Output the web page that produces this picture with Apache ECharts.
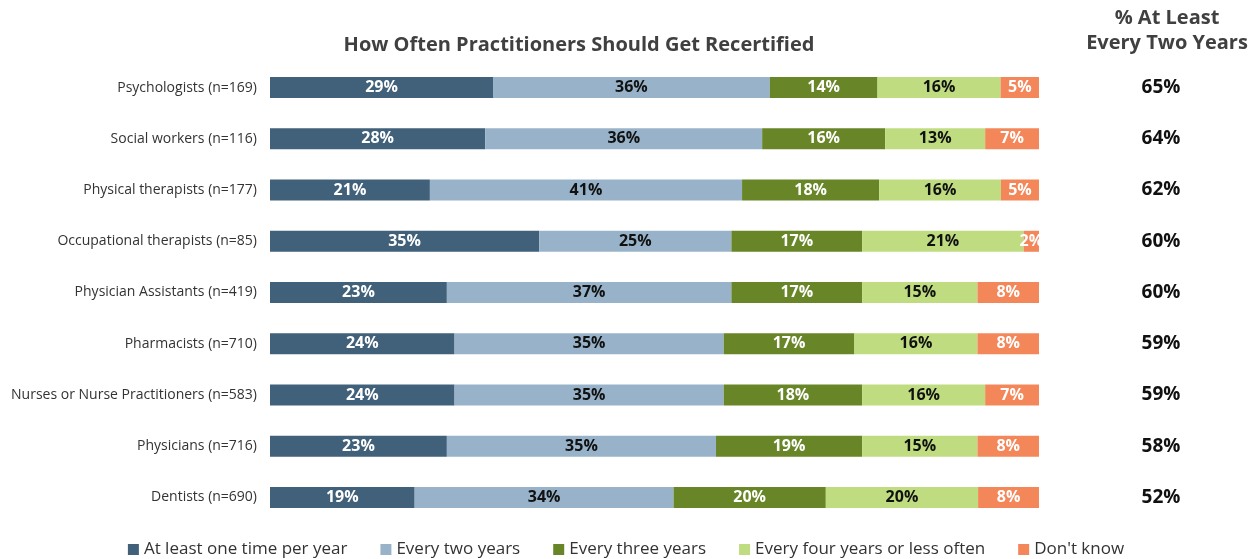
<!DOCTYPE html>
<html>
<head>
<meta charset="utf-8">
<script src="https://cdn.jsdelivr.net/npm/echarts@6/dist/echarts.min.js"></script>
<style>
  html, body { margin: 0; padding: 0; background: #fff; }
  #chart { width: 1252px; height: 559px; }
</style>
</head>
<body>
<div id="chart"></div>
<script>
// groups, top to bottom
const groups = [
  "Psychologists (n=169)",
  "Social workers (n=116)",
  "Physical therapists (n=177)",
  "Occupational therapists (n=85)",
  "Physician Assistants (n=419)",
  "Pharmacists (n=710)",
  "Nurses or Nurse Practitioners (n=583)",
  "Physicians (n=716)",
  "Dentists (n=690)"
];

const seriesNames = ["At least one time per year", "Every two years", "Every three years", "Every four years or less often", "Don't know"];

// values in %, one list per answer
const oncePerYear = [29, 28, 21, 35, 23, 24, 24, 23, 19];
const everyTwo    = [36, 36, 41, 25, 37, 35, 35, 35, 34];
const everyThree  = [14, 16, 18, 17, 17, 17, 18, 19, 20];
const everyFour   = [16, 13, 16, 21, 15, 16, 16, 15, 20];
const dontKnow    = [5, 7, 5, 2, 8, 8, 7, 8, 8];

// right column: % at least every two years
const atLeastTwo = [65, 64, 62, 60, 60, 59, 59, 58, 52];

const colors = ["#41607A", "#98B3C9", "#688627", "#BFDD80", "#F4875A"];
const labelColors = ["#fff", "#111", "#fff", "#111", "#fff"];

const allValues = [oncePerYear, everyTwo, everyThree, everyFour, dontKnow];

// 100% stacked, like the spreadsheet chart
const rowTotals = groups.map((g, i) => allValues.reduce((s, arr) => s + arr[i], 0));

const font = "'Open Sans', 'Noto Sans', sans-serif";

const chart = echarts.init(document.getElementById("chart"));

chart.setOption({
  animation: false,
  textStyle: { fontFamily: font },
  title: [
    {
      text: "How Often Practitioners Should Get Recertified",
      left: 574, top: 30, textAlign: "center",
      textStyle: { fontSize: 20, fontWeight: "bold", color: "#404040", fontFamily: font }
    },
    {
      text: "% At Least\nEvery Two Years",
      left: 1162, top: 1, textAlign: "center",
      textStyle: { fontSize: 20, fontWeight: "bold", color: "#404040", lineHeight: 25, fontFamily: font }
    }
  ],
  legend: {
    data: seriesNames,
    left: "center",
    top: 536,
    icon: "rect",
    itemWidth: 11,
    itemHeight: 11,
    itemGap: 33,
    textStyle: { fontSize: 17, color: "#333", fontFamily: font }
  },
  grid: { left: 270, right: 213, top: 62, bottom: 36 },
  xAxis: {
    type: "value", min: 0, max: 100,
    show: false
  },
  yAxis: [
    {
      type: "category",
      data: groups,
      inverse: true,
      axisLine: { show: false },
      axisTick: { show: false },
      axisLabel: { fontSize: 14, color: "#333", margin: 13, fontFamily: font }
    },
    {
      type: "category",
      data: atLeastTwo.map(v => v + "%"),
      inverse: true,
      position: "right",
      axisLine: { show: false },
      axisTick: { show: false },
      axisLabel: { fontSize: 19, fontWeight: "bold", color: "#111", margin: 122, align: "center", fontFamily: font }
    }
  ],
  series: allValues.map((arr, k) => ({
    name: seriesNames[k],
    type: "bar",
    stack: "all",
    barWidth: 21,
    itemStyle: { color: colors[k] },
    label: {
      show: true,
      position: "inside",
      fontSize: 16,
      fontWeight: "bold",
      color: labelColors[k],
      fontFamily: font,
      formatter: p => arr[p.dataIndex] + "%"
    },
    data: arr.map((v, i) => v / rowTotals[i] * 100)
  }))
});
</script>
</body>
</html>
